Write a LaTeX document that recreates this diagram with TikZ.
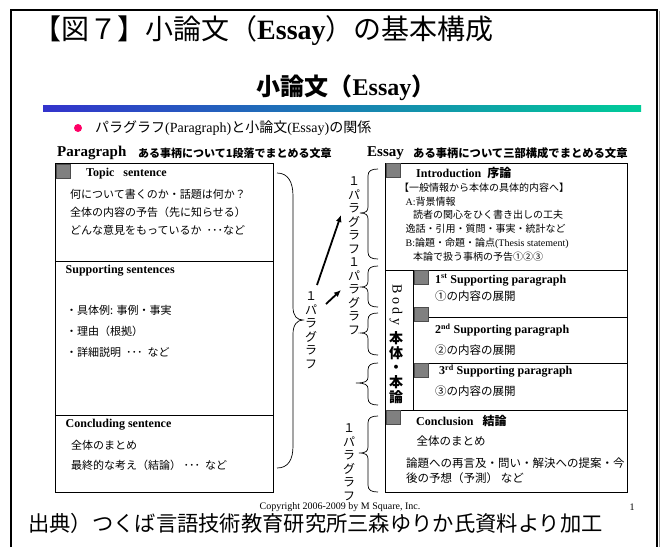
\documentclass[tikz,border=0pt]{standalone}
\usepackage{fontspec}
\setmainfont{Liberation Serif}
\newfontfamily\jp{Noto Sans CJK JP}
\usetikzlibrary{arrows.meta}
\definecolor{gradA}{RGB}{51,51,204}
\definecolor{gradB}{RGB}{0,204,153}
\definecolor{dotred}{RGB}{255,0,102}
\definecolor{sqgray}{RGB}{128,128,128}
\newcommand{\rbr}[4]{\draw[brc] (378,#1) .. controls (371,#1) and (368,{#1+2}) .. (368,{#1+7}) -- (368,{#2-6}) .. controls (368,{#2-2}) and (366,#2) .. (#4,#2) .. controls (366,#2) and (368,{#2+2}) .. (368,{#2+6}) -- (368,{#3-7}) .. controls (368,{#3-2}) and (371,#3) .. (378,#3);}
\tikzset{
  jt/.style={anchor=west, inner sep=0pt, font=\jp\fontsize{11}{13}\selectfont},
  jm/.style={anchor=west, inner sep=0pt, font=\jp\fontsize{11.5}{13}\selectfont},
  jsm/.style={anchor=west, inner sep=0pt, font=\jp\fontsize{10}{12}\selectfont},
  hd/.style={anchor=west, inner sep=0pt, font=\fontsize{12}{14}\selectfont\bfseries},
  vtxt/.style={align=center, inner sep=0pt, font=\jp\fontsize{12}{13.5}\selectfont},
  sq/.style={fill=sqgray, draw=black!70, line width=0.6pt},
  boxline/.style={line width=0.8pt},
  brc/.style={line width=0.7pt},
  arr/.style={line width=1.8pt, -{Latex[length=7pt,width=6pt]}}
}
\begin{document}
\begin{tikzpicture}[x=1pt,y=-1pt]
\useasboundingbox (0,0) rectangle (664,547);
\fill[white] (0,0) rectangle (664,547);
% frame
\draw[line width=2pt] (11,547) -- (11,10) -- (657,10) -- (657,547);
\draw[black!40, line width=1pt] (659.5,11) -- (659.5,547);
% title
\node[anchor=west, inner sep=0pt, font=\fontsize{28}{30}\selectfont] (title) at (33,31)
  {{\jp 【図７】小論文（}\textbf{Essay}{\jp ）の基本構成}};
\node[inner sep=0pt, font=\fontsize{24}{26}\selectfont\bfseries] (sub) at (346,88)
  {{\jp\bfseries 小論文（}Essay{\jp\bfseries ）}};
\shade[left color=gradA, right color=gradB] (43,105) rectangle (641,111);
\fill[dotred] (78,128) circle (4);
\node[anchor=west, inner sep=0pt, font=\fontsize{14}{16}\selectfont] (bullet) at (95,128)
  {{\jp パラグラフ}(Paragraph){\jp と小論文}(Essay){\jp の関係}};
% headings
\node[anchor=west, inner sep=0pt, font=\fontsize{15}{17}\selectfont\bfseries] (hp) at (57,153) {Paragraph};
\node[anchor=west, inner sep=0pt, font=\jp\bfseries\fontsize{11}{13}\selectfont] (hpj) at (138,153) {ある事柄について1段落でまとめる文章};
\node[anchor=west, inner sep=0pt, font=\fontsize{15}{17}\selectfont\bfseries] (he) at (367,153) {Essay};
\node[anchor=west, inner sep=0pt, font=\jp\bfseries\fontsize{11.3}{13}\selectfont] (hej) at (413,153) {ある事柄について三部構成でまとめる文章};
% left box
\draw[boxline] (55,163) rectangle (273,492);
\draw[boxline] (55,261) -- (273,261);
\draw[boxline] (55,415) -- (273,415);
\draw[sq] (56,164) rectangle (70,178);
\node[hd] (ts) at (86,174) {Topic\ \ \ sentence};
\node[jt] (t1) at (70,194) {何について書くのか・話題は何か？};
\node[jt] (t2) at (70,212.5) {全体の内容の予告（先に知らせる）};
\node[jt] (t3) at (70,230) {どんな意見をもっているか\ \ ･･･など};
\node[hd] (ss) at (65.5,271) {Supporting sentences};
\node[jt] (s1) at (66,310) {・具体例: 事例・事実};
\node[jt] (s2) at (66,331) {・理由（根拠）};
\node[jt] (s3) at (66,352.5) {・詳細説明\ \ ･･･\ \ など};
\node[hd] (cs) at (65.5,425) {Concluding sentence};
\node[jt] (c1) at (71,445) {全体のまとめ};
\node[jt] (c2) at (71,465) {最終的な考え（結論）\ ･･･\ \ など};
% big left brace
\draw[brc] (277,173) .. controls (288,173) and (293,182) .. (293,196) -- (293,307) .. controls (293,316) and (297,320) .. (303,320) .. controls (297,320) and (293,325) .. (293,334) -- (293,446) .. controls (293,460) and (288,468) .. (277,468);
\node[vtxt] (vl) at (311,330) {１\\パ\\ラ\\グ\\ラ\\フ};
% arrows
\coordinate (a1s) at (317,285);
\coordinate (a1e) at (341,215);
\coordinate (a2s) at (326,304);
\coordinate (a2e) at (341,290);
\draw[arr] (a1s) -- (a1e);
\draw[arr] (a2s) -- (a2e);
% right braces and labels
\rbr{169}{213}{259}{360}
\rbr{266}{287}{307}{361}
\rbr{313}{333}{355}{361}
\rbr{363}{383}{405}{356}
\rbr{416}{453}{492}{359}
\node[vtxt] (va) at (354,215) {１\\パ\\ラ\\グ\\ラ\\フ};
\node[vtxt] (vb) at (354,296) {１\\パ\\ラ\\グ\\ラ\\フ};
\node[vtxt] (ve) at (349,462) {１\\パ\\ラ\\グ\\ラ\\フ};
% right box
\draw[boxline] (385,163) rectangle (627,492);
\draw[boxline] (385,270) -- (627,270);
\draw[boxline] (413.5,270) -- (413.5,410);
\draw[boxline] (413.5,317) -- (627,317);
\draw[boxline] (413.5,363) -- (627,363);
\draw[boxline] (385,410) -- (627,410);
\draw[sq] (386,163.5) rectangle (400,177);
\draw[sq] (414,270.5) rectangle (428,284);
\draw[sq] (414,307) rectangle (428,321);
\draw[sq] (414,363.5) rectangle (428,377);
\draw[sq] (386,410.5) rectangle (400,424.5);
\node[hd] (intro) at (416,173) {Introduction\ \ {\jp\bfseries 序論}};
\node[jsm] (i1) at (399,188) {【一般情報から本体の具体的内容へ】};
\node[anchor=west, inner sep=0pt, font=\fontsize{10}{12}\selectfont] (i2) at (405.5,201.5) {A:{\jp 背景情報}};
\node[jsm] (i3) at (413,215) {読者の関心をひく書き出しの工夫};
\node[jsm] (i4) at (405.5,229) {逸話・引用・質問・事実・統計など};
\node[anchor=west, inner sep=0pt, font=\fontsize{10}{12}\selectfont] (i5) at (405.5,243) {B:{\jp 論題・命題・論点}(Thesis statement)};
\node[jsm] (i6) at (413,257) {本論で扱う事柄の予告①②③};
\node[rotate=-90, inner sep=0pt, font=\fontsize{14}{16}\selectfont] (body) at (396,305) {B o d y};
\node[align=center, inner sep=0pt, font=\jp\bfseries\fontsize{14}{14.75}\selectfont] (hontai) at (396,367.5) {本\\体\\・\\本\\論};
\node[hd] (p1) at (435,280) {1\textsuperscript{st} Supporting paragraph};
\node[jm] (p1j) at (435,296.5) {①の内容の展開};
\node[hd] (p2) at (435,330) {2\textsuperscript{nd} Supporting paragraph};
\node[jm] (p2j) at (435,350) {②の内容の展開};
\node[hd] (p3) at (439,371) {3\textsuperscript{rd} Supporting paragraph};
\node[jm] (p3j) at (435,391.5) {③の内容の展開};
\node[hd] (concl) at (416,420.5) {Conclusion\ \ \ {\jp\bfseries 結論}};
\node[jm] (cc1) at (416.5,441.5) {全体のまとめ};
\node[anchor=west, align=left, inner sep=0pt, font=\jp\fontsize{11.5}{15}\selectfont] (cc2) at (406,470.5) {論題への再言及・問い・解決への提案・今\\後の予想（予測）\ など};
% footer
\node[inner sep=0pt, font=\fontsize{10}{12}\selectfont] (copy) at (340,507) {Copyright 2006-2009 by M Square, Inc.};
\node[inner sep=0pt, font=\fontsize{10}{12}\selectfont] (pg) at (632,507) {1};
\node[anchor=west, inner sep=0pt, font=\jp\fontsize{21.3}{24}\selectfont] (src) at (28,523) {出典）つくば言語技術教育研究所三森ゆりか氏資料より加工};
\end{tikzpicture}
\end{document}
